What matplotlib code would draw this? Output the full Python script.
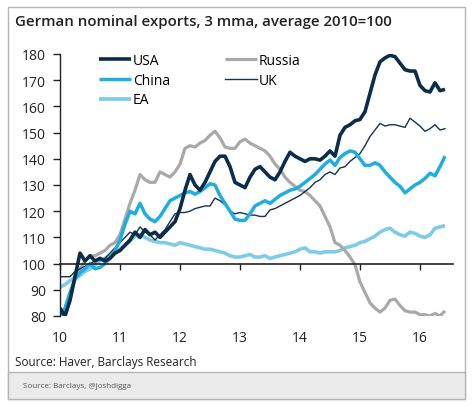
import numpy as np
import matplotlib
matplotlib.use('Agg')
import matplotlib.pyplot as plt
from matplotlib.patches import Rectangle

plt.rcParams['font.family'] = ['Open Sans', 'DejaVu Sans']

# monthly, Jan 2010 .. Jun 2016
months = np.arange(78)
years = 10 + months / 12.0

usa = [83, 80, 86, 95, 104, 101, 103, 101, 102, 101, 102, 104,
       105, 107, 109, 112, 110, 113, 111, 112, 110, 112, 114, 116,
       121, 128, 134, 130, 128, 131, 135, 139, 141, 141, 137, 131,
       130, 129, 133, 136, 137, 135, 133, 132, 135, 139, 142.5, 141,
       140, 139, 140, 140, 139.5, 141, 143, 141, 149, 152, 153, 154.5,
       155, 158, 165, 172, 177, 178.5, 179.5, 179, 176.5, 174, 173.5, 173.5,
       168, 166, 165.5, 169, 166, 166.5]

russia = [81, 80, 86, 95, 98, 101, 103, 103, 104, 105, 107, 108,
          111, 117, 123, 128, 134, 132, 131, 131, 135, 134, 133, 135,
          138, 144, 145, 144.5, 146, 147, 149, 150.5, 148, 144.5, 144, 144,
          146.5, 147.5, 146, 145, 144, 143, 141, 138, 136, 133, 131, 129.5,
          128, 127.5, 126, 124, 122, 118, 114, 108, 107, 105, 102.5, 99.5,
          93, 89, 85, 83, 81.5, 83, 86, 86.5, 84, 82, 81.5, 81.5,
          80.5, 80.5, 80, 81, 80, 82]

china = [80, 83, 89, 94, 96.5, 98, 100, 98, 98.5, 100, 102, 105,
         109, 115, 120, 119, 123, 119, 117, 116, 118, 121, 124, 125,
         126, 127, 127.5, 126.5, 127.5, 129, 130.5, 130, 126, 123, 120, 117,
         116.5, 116.5, 119, 122, 123, 124, 123, 124.5, 126, 127, 128, 128.5,
         129.5, 131, 132.5, 134, 136, 138, 139.5, 137.5, 140.5, 142, 143, 142.5,
         140, 137.5, 137.5, 138.5, 137.5, 135, 133, 131, 129.5, 127, 128.5, 130,
         131, 132.5, 134.5, 133.5, 137, 141]

uk = [95, 95, 95, 97, 98, 99, 100, 101, 101.5, 102, 104, 106,
      108, 110, 112, 111, 114, 112, 111, 109, 111, 113, 116, 119,
      119.5, 119.5, 120, 121, 121.5, 122, 122, 125, 124, 122.5, 120, 119,
      119.5, 119, 118.5, 118.5, 118, 118, 120.5, 121, 122, 123, 124, 125,
      126, 127.5, 129, 131, 132, 134, 135, 134, 136.5, 137, 139, 140.5,
      142, 145, 148.5, 151, 153.5, 152.5, 153, 153, 152.5, 152, 155.5, 154,
      152.5, 150.5, 151.5, 153, 151, 151.5]

ea = [91, 92, 93.5, 94.5, 95.5, 97, 98, 99.5, 101, 102, 103, 104,
      105.5, 107, 108.5, 110.5, 111, 110, 109, 108.5, 108, 108, 107.5, 107,
      108, 107.5, 107, 106.5, 106, 105.5, 105.5, 105, 104.5, 104, 103, 102.5,
      102.5, 103, 103.5, 102.5, 102.5, 103, 102, 102.5, 103, 103.5, 104, 104.5,
      105.5, 106, 104.5, 104.5, 104, 104.5, 104.5, 104.5, 105, 106, 106.5, 107,
      108, 108.5, 109.5, 110.5, 112, 113, 113.5, 112, 111, 110.5, 112, 111.5,
      110.5, 110, 111, 113.5, 114, 114.5]

year_ticks = [10, 11, 12, 13, 14, 15, 16]
y_ticks = [80, 90, 100, 110, 120, 130, 140, 150, 160, 170, 180]

W, H = 474, 406
fig = plt.figure(figsize=(W / 100, H / 100), dpi=100)

# outer frame and footer band
fig.patches.append(Rectangle((8 / W, 6 / H), 457 / W, 392 / H, transform=fig.transFigure,
                             facecolor='white', edgecolor='#b5b5b5', linewidth=1.0, zorder=-10))
fig.patches.append(Rectangle((8 / W, 6 / H), 457 / W, 27 / H, transform=fig.transFigure,
                             facecolor='#ebebeb', edgecolor='#b5b5b5', linewidth=1.0, zorder=-9))

ax = fig.add_axes([60 / W, 89 / H, 393 / W, 262 / H])
ax.set_zorder(5)
ax.patch.set_alpha(0)

ax.plot(years, ea, color='#7fcce6', lw=2.6, label='EA', solid_capstyle='butt')
ax.plot(years, russia, color='#a9a9a9', lw=2.3, label='Russia', solid_capstyle='butt')
ax.plot(years, uk, color='#15324f', lw=1.0, label='UK')
ax.plot(years, china, color='#1fade2', lw=2.5, label='China', solid_capstyle='butt')
ax.plot(years, usa, color='#0b2c4b', lw=2.6, label='USA', solid_capstyle='butt')

ax.set_xlim(10, 16.55)
ax.set_ylim(80, 180)
for s in ['top', 'right']:
    ax.spines[s].set_visible(False)
ax.spines['bottom'].set_position(('data', 100))
ax.spines['left'].set_color('#222222')
ax.spines['bottom'].set_color('#222222')
ax.spines['left'].set_linewidth(1.0)
ax.spines['bottom'].set_linewidth(1.2)

ax.set_yticks(y_ticks)
ax.set_xticks(year_ticks)
ax.set_xticklabels([str(y) for y in year_ticks])
ax.tick_params(axis='y', direction='out', length=5, width=1, color='#222222',
               labelsize=10, pad=5, labelcolor='#222222')
ax.tick_params(axis='x', direction='out', length=4, width=1, color='#222222',
               labelsize=10, pad=44, labelcolor='#222222')

handles, labels = ax.get_legend_handles_labels()
order = ['USA', 'China', 'EA', 'Russia', 'UK']
hmap = dict(zip(labels, handles))
ax.legend([hmap[k] for k in order], order, loc='upper left', bbox_to_anchor=(0.1, 1.005),
          ncol=2, frameon=False, fontsize=10, handlelength=2.3, handletextpad=0.1,
          columnspacing=4.0, labelspacing=0.35, borderpad=0, borderaxespad=0)

fig.text(15 / W, 1 - 22 / H, 'German nominal exports, 3 mma, average 2010=100',
         fontsize=10.8, fontweight='semibold', va='center', ha='left', color='#222222')
fig.text(15 / W, 1 - 363 / H, 'Source: Haver, Barclays Research',
         fontsize=8.5, va='center', ha='left', color='#222222')
fig.text(23 / W, 1 - 387 / H, 'Source: Barclays, @joshdigga',
         fontsize=5.8, va='center', ha='left', color='#555555')

fig.savefig('out.png', dpi=100)
